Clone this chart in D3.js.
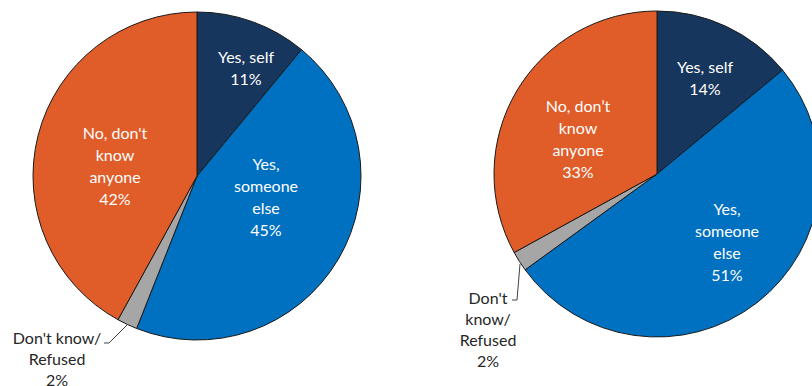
<!DOCTYPE html>
<html>
<head>
<meta charset="utf-8">
<script src="https://cdn.jsdelivr.net/npm/d3@7"></script>
<style>
  html, body { margin: 0; padding: 0; background: #fff; }
  svg { display: block; }
</style>
</head>
<body>
<svg id="chart" width="812" height="386"></svg>
<script>
// Answer categories, in clockwise order from 12 o'clock
const categories = ["Yes, self", "Yes, someone else", "Don't know/ Refused", "No, don't know anyone"];
const leftValues = [11, 45, 2, 42];
const rightValues = [14, 51, 2, 33];

// Label text lines per slice (value is appended as the last line)
const leftLabelLines = [["Yes, self"], ["Yes,", "someone", "else"], ["Don't know/", "Refused"], ["No, don't", "know", "anyone"]];
const rightLabelLines = [["Yes, self"], ["Yes,", "someone", "else"], ["Don't", "know/", "Refused"], ["No, don\u2019t", "know", "anyone"]];

const colors = ["#17365d", "#0070c0", "#a6a6a6", "#e05c28"];
const textColors = ["#ffffff", "#ffffff", "#262626", "#ffffff"];

// Layout for each pie: center, radius, label offsets from the center, leader for the small slice
const pies = [
  {
    values: leftValues, lines: leftLabelLines, cx: 197, cy: 176, r: 164,
    labelOffsets: [[49, -109], [69, 20], [null, null], [-82, -11]],
    outside: { x: 57, y: 358 },
    leader: [[104, 343], [109, 343], [127, 325]]
  },
  {
    values: rightValues, lines: rightLabelLines, cx: 657, cy: 174, r: 163,
    labelOffsets: [[48, -97], [70, 67], [null, null], [-79, -36]],
    outside: { x: 488, y: 328 },
    leader: [[512, 300], [517, 300], [520, 264]]
  }
];

const svg = d3.select("#chart");
const lineH = 22;
const outsideLineH = 21;
const font = "Lato, 'Open Sans', sans-serif";

pies.forEach(p => {
  const pie = d3.pie().sort(null).value(d => d)(p.values);
  const arc = d3.arc().innerRadius(0).outerRadius(p.r);
  const g = svg.append("g").attr("transform", `translate(${p.cx},${p.cy})`);

  g.selectAll("path.slice")
    .data(pie)
    .join("path")
    .attr("class", "slice")
    .attr("d", arc)
    .attr("fill", (d, i) => colors[i])
    .attr("stroke", "#1a1a1a")
    .attr("stroke-width", 1)
    .attr("stroke-linejoin", "round");

  pie.forEach((d, i) => {
    const lines = p.lines[i].concat([d.data + "%"]);
    let x, y, lh;
    if (p.labelOffsets[i][0] === null) {
      x = p.outside.x; y = p.outside.y; lh = outsideLineH;
    } else {
      x = p.cx + p.labelOffsets[i][0]; y = p.cy + p.labelOffsets[i][1]; lh = lineH;
    }
    const t = svg.append("text")
      .attr("x", x)
      .attr("y", y - (lines.length - 1) * lh / 2)
      .attr("text-anchor", "middle")
      .attr("dominant-baseline", "central")
      .attr("font-family", font)
      .attr("font-size", 16)
      .attr("fill", textColors[i]);
    lines.forEach((ln, k) => {
      t.append("tspan").attr("x", x).attr("dy", k === 0 ? 0 : lh).text(ln);
    });
  });

  svg.append("path")
    .attr("d", d3.line()(p.leader))
    .attr("fill", "none")
    .attr("stroke", "#404040")
    .attr("stroke-width", 1);
});
</script>
</body>
</html>
